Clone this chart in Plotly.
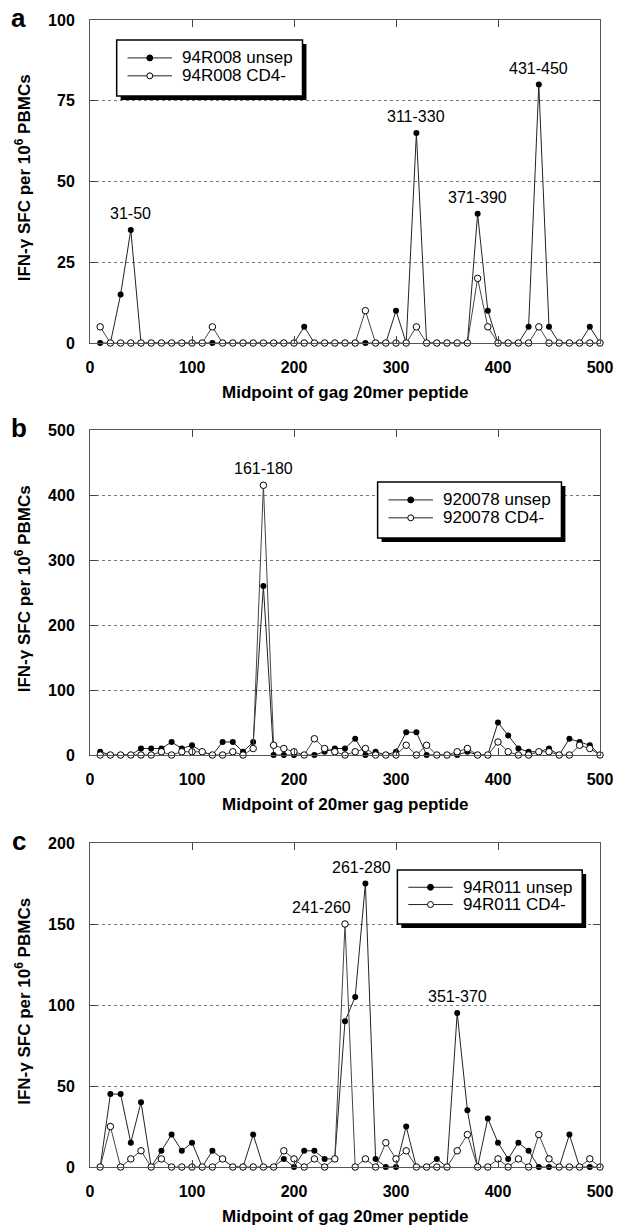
import plotly.graph_objects as go

# ---------------- data ----------------
midpoints = [10, 20, 30, 40, 50, 60, 70, 80, 90, 100,
             110, 120, 130, 140, 150, 160, 170, 180, 190, 200,
             210, 220, 230, 240, 250, 260, 270, 280, 290, 300,
             310, 320, 330, 340, 350, 360, 370, 380, 390, 400,
             410, 420, 430, 440, 450, 460, 470, 480, 490, 500]

a_unsep = [0, 0, 15, 35, 0, 0, 0, 0, 0, 0,
           0, 0, 0, 0, 0, 0, 0, 0, 0, 0,
           5, 0, 0, 0, 0, 0, 0, 0, 0, 10,
           0, 65, 0, 0, 0, 0, 0, 40, 10, 0,
           0, 0, 5, 80, 5, 0, 0, 0, 5, 0]
a_cd4 = [5, 0, 0, 0, 0, 0, 0, 0, 0, 0,
         0, 5, 0, 0, 0, 0, 0, 0, 0, 0,
         0, 0, 0, 0, 0, 0, 10, 0, 0, 0,
         0, 5, 0, 0, 0, 0, 0, 20, 5, 0,
         0, 0, 0, 5, 0, 0, 0, 0, 0, 0]

b_unsep = [5, 0, 0, 0, 10, 10, 10, 20, 10, 15,
           5, 0, 20, 20, 5, 20, 260, 0, 0, 0,
           0, 0, 5, 10, 10, 25, 0, 5, 0, 5,
           35, 35, 0, 0, 0, 0, 5, 0, 0, 50,
           30, 10, 5, 5, 10, 0, 25, 20, 15, 0]
b_cd4 = [0, 0, 0, 0, 0, 0, 5, 0, 5, 5,
         5, 0, 0, 5, 0, 10, 415, 15, 10, 5,
         0, 25, 10, 5, 0, 5, 10, 0, 0, 0,
         15, 0, 15, 0, 0, 5, 10, 0, 0, 20,
         5, 0, 0, 5, 5, 0, 0, 15, 10, 0]

c_unsep = [0, 45, 45, 15, 40, 0, 10, 20, 10, 15,
           0, 10, 5, 0, 0, 20, 0, 0, 5, 0,
           10, 10, 5, 5, 90, 105, 175, 5, 0, 0,
           25, 0, 0, 5, 0, 95, 35, 0, 30, 15,
           5, 15, 10, 0, 0, 0, 20, 0, 0, 0]
c_cd4 = [0, 25, 0, 5, 10, 0, 5, 0, 0, 0,
         0, 0, 5, 0, 0, 0, 0, 0, 10, 5,
         0, 5, 0, 5, 150, 0, 5, 0, 15, 5,
         10, 0, 0, 0, 0, 10, 20, 0, 0, 5,
         0, 5, 0, 20, 5, 0, 0, 0, 5, 0]

a_names = ["94R008 unsep", "94R008 CD4-"]
b_names = ["920078 unsep", "920078 CD4-"]
c_names = ["94R011 unsep", "94R011 CD4-"]

a_peaks = [40, 320, 380, 440]
a_peak_labels = ["31-50", "311-330", "371-390", "431-450"]
b_peaks = [170]
b_peak_labels = ["161-180"]
c_peaks = [250, 270, 360]
c_peak_labels = ["241-260", "261-280", "351-370"]

x_ticks = [0, 100, 200, 300, 400, 500]
a_yticks = [0, 25, 50, 75, 100]
b_yticks = [0, 100, 200, 300, 400, 500]
c_yticks = [0, 50, 100, 150, 200]

x_titles = ["Midpoint of gag 20mer peptide", "Midpoint of 20mer gag peptide",
            "Midpoint of gag 20mer peptide"]
y_title = "IFN-\u03b3 SFC per 10<sup>6</sup> PBMCs"
panel_letters = ["a", "b", "c"]

# ---------------- layout helpers ----------------
FW, FH = 625, 1225
L, R, T, B = 90, 19, 20, 58
PW = FW - L - R
PH = FH - T - B
FONT = "Liberation Sans, Arial, Helvetica, sans-serif"


def px(p):
    return (p - L) / PW


def py(p):
    return (FH - B - p) / PH


panels = [
    dict(top=20, bot=343, unsep=a_unsep, cd4=a_cd4, names=a_names, yticks=a_yticks,
         peaks=a_peaks, labels=a_peak_labels, xshift=[0, 0, 0, 0],
         legend=(117, 40, 305, 96)),
    dict(top=430, bot=755, unsep=b_unsep, cd4=b_cd4, names=b_names, yticks=b_yticks,
         peaks=b_peaks, labels=b_peak_labels, xshift=[0],
         legend=(381, 482, 567, 538)),
    dict(top=843, bot=1167, unsep=c_unsep, cd4=c_cd4, names=c_names, yticks=c_yticks,
         peaks=c_peaks, labels=c_peak_labels, xshift=[-24, -4, 0],
         legend=(401, 870, 588, 924)),
]

fig = go.Figure()
shapes = []
annotations = []
line_col = "#222222"

for i, p in enumerate(panels):
    k = "" if i == 0 else str(i + 1)
    xa, ya = "x" + k, "y" + k
    fig.add_trace(go.Scatter(
        x=midpoints, y=p["unsep"], mode="lines+markers", name=p["names"][0],
        line=dict(color=line_col, width=1),
        marker=dict(symbol="circle", size=6, color="black"),
        xaxis=xa, yaxis=ya, cliponaxis=False, showlegend=False))
    fig.add_trace(go.Scatter(
        x=midpoints, y=p["cd4"], mode="lines+markers", name=p["names"][1],
        line=dict(color="#444444", width=1),
        marker=dict(symbol="circle", size=6.5, color="white",
                    line=dict(color="black", width=1)),
        xaxis=xa, yaxis=ya, cliponaxis=False, showlegend=False))

    dom = [py(p["bot"]), py(p["top"])]
    axis_common = dict(
        ticks="inside", ticklen=7, tickwidth=1, tickcolor="#444444",
        showline=True, linecolor="#555555", linewidth=1, mirror="ticks",
        zeroline=False, tickfont=dict(family=FONT, size=16, color="black", weight="bold"),
        fixedrange=True)
    fig.update_layout(**{
        "xaxis" + k: dict(axis_common, domain=[0, 1], anchor=ya, range=[0, 500],
                          tickvals=x_ticks, showgrid=False, ticklabelstandoff=10),
        "yaxis" + k: dict(axis_common, domain=dom, anchor=xa,
                          range=[p["yticks"][0], p["yticks"][-1]],
                          tickvals=p["yticks"], showgrid=True, gridcolor="#777777",
                          griddash="dot", gridwidth=1, ticklabelstandoff=11),
    })

    # peak labels
    for j, (pk, lab) in enumerate(zip(p["peaks"], p["labels"])):
        idx = midpoints.index(pk)
        yv = max(p["unsep"][idx], p["cd4"][idx])
        annotations.append(dict(
            x=pk, y=yv, xref=xa, yref=ya, text=lab, showarrow=False,
            yanchor="bottom", yshift=6, xshift=p["xshift"][j],
            font=dict(family=FONT, size=16, color="black")))

    # x title
    annotations.append(dict(
        x=0.5, y=py(p["bot"] + 49), xref="paper", yref="paper", text=x_titles[i],
        showarrow=False, xanchor="center", yanchor="middle",
        font=dict(family=FONT, size=17, color="black", weight="bold")))
    # y title
    annotations.append(dict(
        x=px(22), y=py((p["top"] + p["bot"]) / 2 - 4), xref="paper", yref="paper",
        text=y_title, textangle=-90, showarrow=False, xanchor="center", yanchor="middle",
        font=dict(family=FONT, size=17, color="black", weight="bold")))
    # panel letter
    annotations.append(dict(
        x=px(18), y=py(p["top"] - 2), xref="paper", yref="paper", text=panel_letters[i],
        showarrow=False, xanchor="center", yanchor="middle",
        font=dict(family=FONT, size=26, color="black", weight="bold")))

    # legend box (drawn manually)
    x0, y0, x1, y1 = p["legend"]
    shapes.append(dict(type="rect", xref="paper", yref="paper", layer="above",
                       x0=px(x0 + 4), x1=px(x1 + 4), y0=py(y1 + 4), y1=py(y0 + 4),
                       fillcolor="black", line=dict(width=0)))
    shapes.append(dict(type="rect", xref="paper", yref="paper", layer="above",
                       x0=px(x0), x1=px(x1), y0=py(y1), y1=py(y0),
                       fillcolor="white", line=dict(color="black", width=1.5)))
    h = y1 - y0
    for e, (nm, filled) in enumerate(zip(p["names"], [True, False])):
        ey = y0 + h * (0.32 + 0.32 * e)
        lx0, lx1 = x0 + 11, x0 + 56
        shapes.append(dict(type="line", xref="paper", yref="paper", layer="above",
                           x0=px(lx0), x1=px(lx1), y0=py(ey), y1=py(ey),
                           line=dict(color=line_col, width=1)))
        cx = (lx0 + lx1) / 2
        r = 3
        shapes.append(dict(type="circle", xref="paper", yref="paper", layer="above",
                           x0=px(cx - r), x1=px(cx + r), y0=py(ey + r), y1=py(ey - r),
                           fillcolor="black" if filled else "white",
                           line=dict(color="black", width=1)))
        annotations.append(dict(
            x=px(x0 + 64), y=py(ey), xref="paper", yref="paper", text=nm,
            showarrow=False, xanchor="left", yanchor="middle",
            font=dict(family=FONT, size=17, color="black")))

fig.update_layout(
    width=FW, height=FH,
    margin=dict(l=L, r=R, t=T, b=B),
    paper_bgcolor="white", plot_bgcolor="white",
    showlegend=False,
    shapes=shapes, annotations=annotations,
    font=dict(family=FONT, color="black"),
)

fig.write_html("out.html", config={"displayModeBar": False})
